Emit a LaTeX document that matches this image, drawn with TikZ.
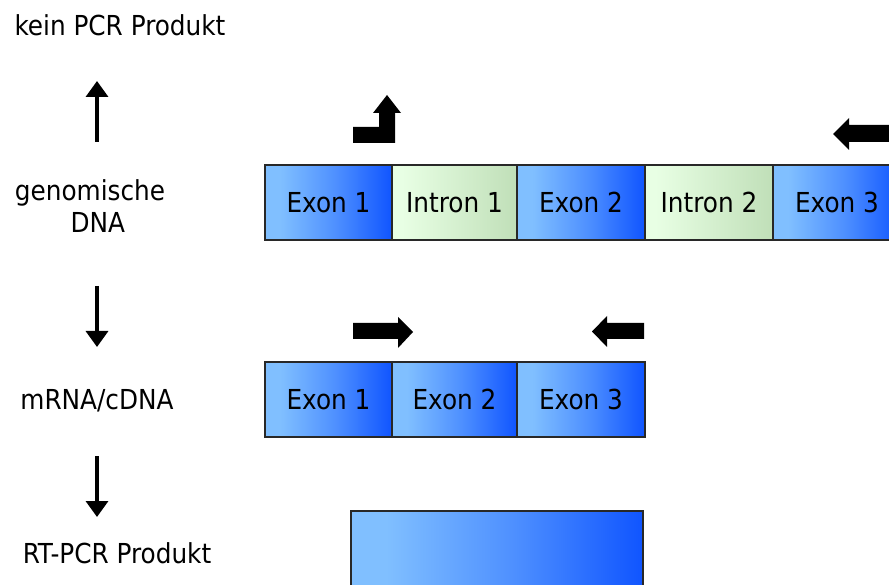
\documentclass[tikz,border=0pt]{standalone}
\usepackage{fontspec}
\setmainfont{DejaVu Sans Condensed}
\usetikzlibrary{arrows.meta}
\definecolor{exL}{RGB}{128,191,255}
\definecolor{exR}{RGB}{16,85,255}
\definecolor{inL}{RGB}{232,255,228}
\definecolor{inR}{RGB}{192,223,184}
\definecolor{edge}{RGB}{40,40,40}
\pgfdeclarehorizontalshading{exsh}{100bp}{color(0bp)=(exL); color(25bp)=(exL); color(31bp)=(exL); color(53bp)=(exR!45!exL); color(75bp)=(exR); color(100bp)=(exR)}
\pgfdeclarehorizontalshading{insh}{100bp}{color(0bp)=(inL); color(25bp)=(inL); color(29bp)=(inL); color(75bp)=(inR); color(100bp)=(inR)}
\tikzset{
  seg/.style={draw=edge, line width=1.3pt, minimum height=75pt, inner sep=0pt, text=black, font=\fontsize{27.5}{31}\selectfont},
  exon/.style={seg, shading=exsh},
  intron/.style={seg, shading=insh},
  lab/.style={inner sep=0pt, font=\fontsize{27.5}{32}\selectfont, align=center},
  flow/.style={line width=3.5pt, -{Triangle[width=22pt,length=16pt]}},
  blockarrow/.style={fill=black}
}
\begin{document}
\begin{tikzpicture}[x=1pt,y=-1pt]
\clip (0,0) rectangle (889,585);
\fill[white] (0,0) rectangle (889,585);
% labels
\node[lab] (kein) at (120,25) {kein PCR Produkt};
\node[lab] (gen) at (90,206) {genomische\\\ \ DNA};
\node[lab] (mrna) at (97,401) {mRNA/cDNA};
\node[lab] (rt) at (117,553) {RT-PCR Produkt};
% flow arrows
\coordinate (u1) at (97,142); \coordinate (u2) at (97,81);
\coordinate (d1) at (97,286); \coordinate (d2) at (97,347);
\coordinate (e1) at (97,456); \coordinate (e2) at (97,517);
\draw[flow] (u1) -- (u2);
\draw[flow] (d1) -- (d2);
\draw[flow] (e1) -- (e2);
% genomic DNA
\node[exon, minimum width=127pt] (g1) at (328.5,202.5) {Exon 1};
\node[intron, minimum width=125pt] (g2) at (454.5,202.5) {Intron 1};
\node[exon, minimum width=128pt] (g3) at (581,202.5) {Exon 2};
\node[intron, minimum width=128pt] (g4) at (709,202.5) {Intron 2};
\node[exon, minimum width=128pt] (g5) at (837,202.5) {Exon 3};
% mRNA
\node[exon, minimum width=127pt] (m1) at (328.5,399.5) {Exon 1};
\node[exon, minimum width=125pt] (m2) at (454.5,399.5) {Exon 2};
\node[exon, minimum width=128pt] (m3) at (581,399.5) {Exon 3};
% RT-PCR product
\node[exon, minimum width=292pt, minimum height=90pt] (p) at (497,556) {};
% block arrows (primers)
\fill[blockarrow] (353,127) -- (379,127) -- (379,113) -- (373,113) -- (387,95) -- (401,113) -- (395,113) -- (395,143) -- (353,143) -- cycle;
\fill[blockarrow] (900,125) -- (849,125) -- (849,118) -- (833,134) -- (849,150) -- (849,142) -- (900,142) -- cycle;
\fill[blockarrow] (353,323) -- (398,323) -- (398,317) -- (413,332) -- (398,348) -- (398,339) -- (353,339) -- cycle;
\fill[blockarrow] (644,323) -- (607,323) -- (607,316) -- (592,331.5) -- (607,347) -- (607,339) -- (644,339) -- cycle;
\end{tikzpicture}
\end{document}
